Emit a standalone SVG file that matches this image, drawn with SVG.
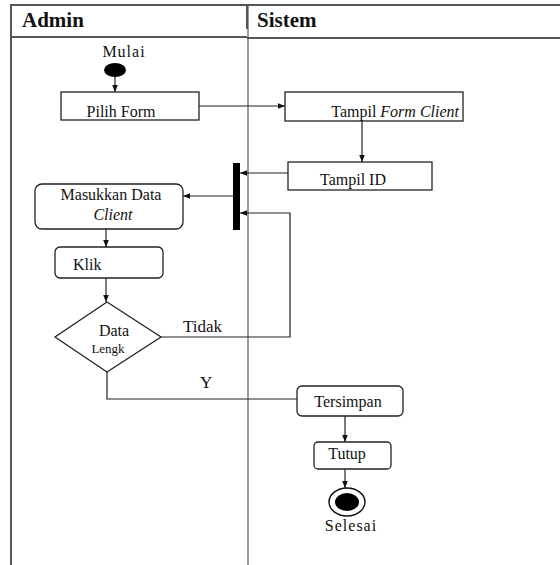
<svg xmlns="http://www.w3.org/2000/svg" width="560" height="565" viewBox="0 0 560 565">
<style>
text{font-family:"Liberation Serif","Times New Roman",serif;fill:#111}
.h{font-size:21px;font-weight:bold}
.t{font-size:16px}
.n{fill:#fff;stroke:#222;stroke-width:1.3}
.c{fill:none;stroke:#222;stroke-width:1.2}
.lane{stroke:#9a9a9a;stroke-width:2;fill:none}
.frame{stroke:#555;stroke-width:2;fill:none}
</style>
<defs>
<marker id="a" viewBox="0 0 10 10" refX="10" refY="5" markerWidth="7" markerHeight="7" markerUnits="userSpaceOnUse" orient="auto"><path d="M0,1 L10,5 L0,9 z" fill="#111"/></marker>
</defs>
<rect width="560" height="565" fill="#fff"/>
<g id="lanes">
<line class="lane" x1="248" y1="5" x2="248" y2="565"/>
<line class="frame" x1="11" y1="5" x2="560" y2="5"/>
<line class="frame" x1="11" y1="37" x2="247" y2="37"/>
<line class="frame" x1="247" y1="38" x2="560" y2="38"/>
<line class="frame" x1="11" y1="4" x2="11" y2="565"/>
<line class="frame" x1="247" y1="5" x2="247" y2="29"/>
<text class="h" x="22" y="27">Admin</text>
<text class="h" x="257" y="27">Sistem</text>
</g>
<g id="connectors">
<line class="c" x1="115" y1="77" x2="115" y2="92" marker-end="url(#a)"/>
<line class="c" x1="199" y1="106" x2="285" y2="106" marker-end="url(#a)"/>
<line class="c" x1="362" y1="121" x2="362" y2="162" marker-end="url(#a)"/>
<line class="c" x1="288" y1="173" x2="240" y2="173" marker-end="url(#a)"/>
<line class="c" x1="233" y1="196" x2="183" y2="196" marker-end="url(#a)"/>
<line class="c" x1="106" y1="229" x2="106" y2="247" marker-end="url(#a)"/>
<line class="c" x1="106" y1="278" x2="106" y2="302" marker-end="url(#a)"/>
<polyline class="c" points="161,337 290,337 290,213 240,213" marker-end="url(#a)"/>
<polyline class="c" points="107,372 107,399 297,399"/>
<line class="c" x1="345" y1="416" x2="345" y2="442" marker-end="url(#a)"/>
<line class="c" x1="345" y1="469" x2="345" y2="488" marker-end="url(#a)"/>
<text class="t" x="183" y="332" style="font-size:17px">Tidak</text>
<text class="t" x="200" y="388" style="font-size:17px">Y</text>
</g>
<g id="start">
<text class="t" x="124" y="57" text-anchor="middle" letter-spacing="1">Mulai</text>
<ellipse cx="115" cy="70" rx="11" ry="7" fill="#000"/>
</g>
<g id="pilih-form">
<rect class="n" x="61" y="92" width="138" height="28"/>
<text class="t" x="121" y="117" text-anchor="middle">Pilih Form</text>
</g>
<g id="tampil-form-client">
<rect class="n" x="285" y="92" width="178" height="29"/>
<text class="t" x="459" y="117" text-anchor="end">Tampil  <tspan font-style="italic">Form Client</tspan></text>
</g>
<g id="tampil-id">
<rect class="n" x="288" y="162" width="144" height="28"/>
<text class="t" x="353" y="185" text-anchor="middle">Tampil ID</text>
</g>
<g id="fork">
<rect x="233" y="163" width="7" height="67" fill="#000"/>
</g>
<g id="masukkan-data-client">
<rect class="n" x="35" y="184" width="148" height="45" rx="7"/>
<text class="t" x="111" y="200" text-anchor="middle">Masukkan Data</text>
<text class="t" x="113" y="220" text-anchor="middle" font-style="italic">Client</text>
</g>
<g id="klik">
<rect class="n" x="55" y="247" width="108" height="31" rx="5"/>
<text class="t" x="73" y="270">Klik</text>
</g>
<g id="data-lengkap">
<polygon class="n" points="107,302 161,337 107,372 55,337"/>
<text class="t" x="114" y="336" text-anchor="middle">Data</text>
<text class="t" x="108" y="353" text-anchor="middle" style="font-size:13px">Lengk</text>
</g>
<g id="tersimpan">
<rect class="n" x="297" y="386" width="106" height="30" rx="5"/>
<text class="t" x="348" y="407" text-anchor="middle">Tersimpan</text>
</g>
<g id="tutup">
<rect class="n" x="314" y="442" width="77" height="27" rx="4"/>
<text class="t" x="347" y="459" text-anchor="middle">Tutup</text>
</g>
<g id="end">
<ellipse cx="347" cy="502" rx="18" ry="14" fill="#fff" stroke="#111" stroke-width="1.5"/>
<ellipse cx="347" cy="502" rx="12" ry="9" fill="#000"/>
<text class="t" x="351" y="531" text-anchor="middle" letter-spacing="1">Selesai</text>
</g>
</svg>
